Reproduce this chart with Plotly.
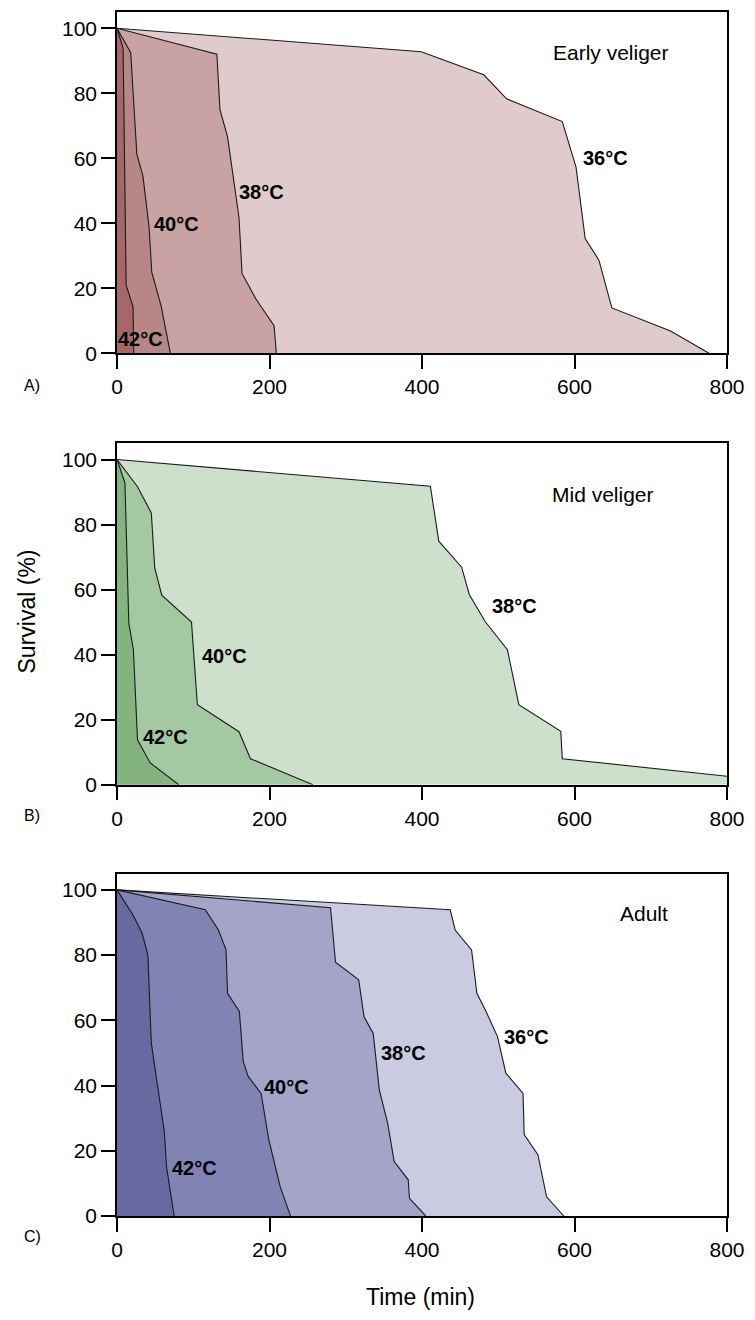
import plotly.graph_objects as go

# ---------------- data (time in min, survival in %) ----------------
# Panel A: Early veliger
A36_t = [0, 399, 481, 511, 584, 602, 614, 632, 649, 726, 777]
A36_s = [100, 92.8, 85.7, 78.3, 71.3, 57.3, 35.3, 28.7, 14.0, 6.9, 0]
A38_t = [0, 131, 135, 145, 160, 164, 182, 206, 209]
A38_s = [100, 92, 75, 66.6, 41.8, 24.6, 16.8, 8.5, 0]
A40_t = [0, 18, 26, 34, 42, 45.6, 58, 70]
A40_s = [100, 92.5, 61.3, 54.6, 39, 25, 14.5, 0]
A42_t = [0, 8, 12, 21, 22]
A42_s = [100, 93.8, 21, 14.4, 0]

# Panel B: Mid veliger
B38_t = [0, 411, 422, 452, 462, 483, 512, 527, 582, 584, 800]
B38_s = [100, 91.8, 74.9, 66.9, 58.5, 50.1, 41.5, 24.6, 16.4, 8.0, 2.6]
B40_t = [0, 26.5, 45, 49.5, 58.7, 97.7, 105.4, 160, 175, 257]
B40_s = [100, 91.8, 83.6, 66.7, 58.3, 50, 24.6, 16.3, 8, 0]
B42_t = [0, 10.4, 15.5, 21.5, 26.9, 43.6, 81]
B42_s = [100, 92.8, 49.7, 41.5, 13.8, 6.7, 0]

# Panel C: Adult
C36_t = [0, 437, 443.5, 465, 472, 484, 499, 510, 532.5, 534, 552, 563.4, 586]
C36_s = [100, 93.9, 87.7, 81.6, 68.3, 62.7, 55, 43.8, 37.6, 25, 18.8, 5.9, 0]
C38_t = [0, 280, 286.6, 317, 324, 336, 344, 355, 363.5, 382, 383.5, 405]
C38_s = [100, 94.5, 77.8, 72.4, 61.1, 56, 38.7, 28.4, 16.7, 11.1, 5.4, 0]
C40_t = [0, 115.8, 133, 143, 145, 160.5, 165.5, 172, 189, 199, 214, 227.5]
C40_s = [100, 93.9, 87.7, 81.6, 68.3, 62.7, 47.5, 42.8, 37.6, 23.5, 9, 0]
C42_t = [0, 21, 33, 40.5, 45, 52, 62, 65, 75]
C42_s = [100, 92.3, 86.7, 80, 53, 42, 26, 15, 0]

x_ticks = [0, 200, 400, 600, 800]
y_ticks = [0, 20, 40, 60, 80, 100]

panels = [
    ("", [
        (A36_t, A36_s, "#e0cbcc", "36°C", 641, 60),
        (A38_t, A38_s, "#c9a3a3", "38°C", 190, 49.6),
        (A40_t, A40_s, "#b68786", "40°C", 78, 39.7),
        (A42_t, A42_s, "#a66766", "42°C", 31, 4.4),
    ], "Early veliger", 648, 92.6),
    ("2", [
        (B38_t, B38_s, "#cde0cb", "38°C", 521, 54.9),
        (B40_t, B40_s, "#a4c9a2", "40°C", 141, 39.7),
        (B42_t, B42_s, "#83b37f", "42°C", 63, 14.7),
    ], "Mid veliger", 637, 89.2),
    ("3", [
        (C36_t, C36_s, "#cacbe0", "36°C", 537, 55),
        (C38_t, C38_s, "#a3a4c8", "38°C", 376, 50),
        (C40_t, C40_s, "#8183b2", "40°C", 222, 39.6),
        (C42_t, C42_s, "#6869a0", "42°C", 101, 14.8),
    ], "Adult", 691, 92.8),
]

FONT = "Liberation Sans, Arial"

fig = go.Figure()
annotations = []
for suf, curves, title, tx, ty in panels:
    xa = "x" + suf
    ya = "y" + suf
    for t, s, col, lab, lx, ly in curves:
        fig.add_trace(go.Scatter(
            x=t, y=s, mode="lines", fill="tozeroy", fillcolor=col,
            line=dict(color="#1a1a1a", width=1.1),
            xaxis=xa, yaxis=ya, showlegend=False, hoverinfo="skip"))
        annotations.append(dict(
            x=lx, y=ly, xref=xa, yref=ya, text="<b>" + lab + "</b>",
            showarrow=False, xanchor="center", yanchor="middle",
            font=dict(family=FONT, size=20, color="black")))
    annotations.append(dict(
        x=tx, y=ty, xref=xa, yref=ya, text=title, showarrow=False,
        xanchor="center", yanchor="middle",
        font=dict(family=FONT, size=21, color="black")))

font_ticks = dict(family=FONT, size=21, color="black")
axis_common = dict(showline=True, linecolor="black", linewidth=1.5, mirror=True,
                   ticks="outside", ticklen=14, tickwidth=1.5, tickcolor="black",
                   showgrid=False, zeroline=False, tickfont=font_ticks)

L, R = 117, 18
W = 755 - L - R
H = 1206.0
domains = {
    "": [(1216 - 352) / H, 1.0],
    "2": [(1216 - 784) / H, (1216 - 442) / H],
    "3": [0.0, (1216 - 873) / H],
}
layout = dict(
    width=755, height=1320, autosize=False,
    margin=dict(l=L, r=R, t=10, b=104),
    paper_bgcolor="white", plot_bgcolor="white",
    font=dict(family=FONT, color="black"),
)
for suf in ["", "2", "3"]:
    layout["xaxis" + suf] = dict(axis_common, range=[0, 800], tickvals=x_ticks,
                                 anchor="y" + suf, domain=[0, 1])
    layout["yaxis" + suf] = dict(axis_common, range=[0, 105], tickvals=y_ticks,
                                 anchor="x" + suf, domain=domains[suf])

fig.update_layout(**layout)

for lab, ypx in [("A)", 384), ("B)", 815), ("C)", 1237)]:
    annotations.append(dict(x=(20 - L) / W, y=(1216 - ypx) / H, xref="paper", yref="paper",
                            text=lab, showarrow=False, xanchor="left", yanchor="middle",
                            font=dict(family=FONT, size=16, color="black")))
annotations.append(dict(x=(26 - L) / W, y=(1216 - 610) / H, xref="paper", yref="paper",
                        text="Survival (%)", textangle=-90, showarrow=False,
                        xanchor="center", yanchor="middle",
                        font=dict(family=FONT, size=23, color="black")))
annotations.append(dict(x=(425 - L) / W, y=(1216 - 1297) / H, xref="paper", yref="paper",
                        text="Time (min)", showarrow=False, xanchor="center", yanchor="middle",
                        font=dict(family=FONT, size=23, color="black")))
fig.update_layout(annotations=annotations)

fig.write_html(
    "out.html",
    config={"displayModeBar": False, "responsive": False},
    post_script="document.body.style.margin='0';document.body.style.overflow='hidden';",
)
